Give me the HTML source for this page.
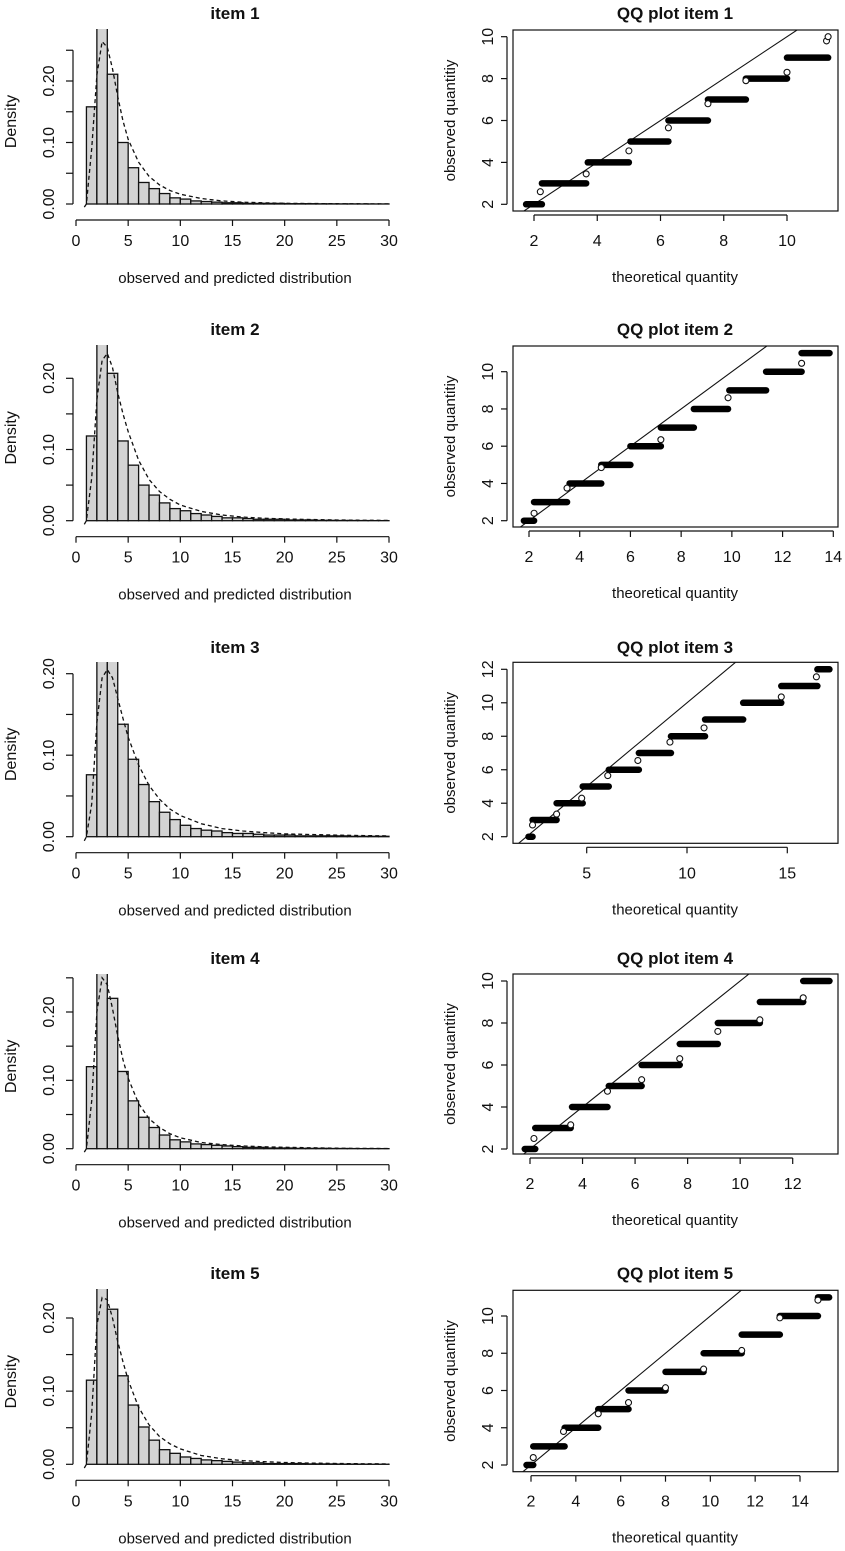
<!DOCTYPE html>
<html><head><meta charset="utf-8"><style>
html,body{margin:0;padding:0;background:#fff;}
svg{display:block;font-family:"Liberation Sans",Arial,sans-serif;}
</style></head><body>
<svg id="fig" width="845" height="1551" viewBox="0 0 845 1551" xmlns="http://www.w3.org/2000/svg"></svg>
<script>
// ---------- DATA ----------
const binStart = 1; // histogram bins of width 1 from 1 to 30
const density1 = [0.158,0.30,0.211,0.100,0.059,0.035,0.025,0.017,0.010,0.008,0.005,0.004,0.003,0.002,0.002,0.001,0.001,0.001,0.001,0.0005,0.0005,0.0005,0.0003,0.0003,0.0002,0.0002,0.0001,0.0001,0.0001];
const density2 = [0.119,0.29,0.207,0.112,0.078,0.050,0.036,0.025,0.017,0.014,0.010,0.008,0.006,0.004,0.004,0.003,0.002,0.002,0.002,0.001,0.001,0.001,0.0005,0.0005,0.0003,0.0003,0.0002,0.0001,0.0001];
const density3 = [0.076,0.25,0.25,0.138,0.095,0.064,0.043,0.030,0.021,0.014,0.010,0.008,0.007,0.005,0.004,0.004,0.003,0.002,0.002,0.002,0.001,0.001,0.001,0.001,0.001,0.0005,0.0005,0.0005,0.0005];
const density4 = [0.120,0.30,0.220,0.113,0.070,0.046,0.031,0.020,0.013,0.010,0.007,0.006,0.005,0.004,0.003,0.002,0.002,0.001,0.001,0.001,0.0005,0.0005,0.0005,0.0003,0.0003,0.0002,0.0001,0.0001,0.0001];
const density5 = [0.115,0.30,0.212,0.121,0.081,0.051,0.033,0.020,0.015,0.010,0.008,0.006,0.005,0.004,0.003,0.002,0.002,0.001,0.001,0.001,0.001,0.0005,0.0005,0.0005,0.0003,0.0003,0.0002,0.0001,0.0001];
const curveX = [0.8,1,1.5,2,2.5,3,3.5,4,4.5,5,6,7,8,9,10,12,14,16,18,20,22,25,27,30];
const curve1 = [-0.005,0,0.09,0.21,0.264,0.255,0.22,0.175,0.135,0.105,0.068,0.045,0.031,0.022,0.016,0.009,0.005,0.003,0.002,0.0012,0.0008,0.0005,0.0003,0.0002];
const curve2 = [-0.005,0,0.06,0.17,0.225,0.235,0.215,0.18,0.15,0.125,0.085,0.058,0.041,0.03,0.022,0.013,0.008,0.005,0.0035,0.0025,0.0018,0.001,0.0007,0.0004];
const curve3 = [-0.005,0,0.04,0.14,0.195,0.205,0.195,0.17,0.145,0.122,0.088,0.063,0.046,0.034,0.026,0.016,0.01,0.007,0.005,0.0035,0.0028,0.002,0.0015,0.001];
const curve4 = [-0.005,0,0.07,0.2,0.25,0.24,0.205,0.165,0.13,0.103,0.066,0.044,0.031,0.022,0.016,0.009,0.006,0.004,0.0028,0.002,0.0014,0.0008,0.0005,0.0003];
const curve5 = [-0.005,0,0.07,0.19,0.228,0.225,0.2,0.168,0.14,0.115,0.078,0.054,0.038,0.028,0.021,0.012,0.0075,0.005,0.0035,0.0025,0.0018,0.0011,0.0008,0.0005];
const histXTicks = [0,5,10,15,20,25,30];
const histYTicksA = [0,0.05,0.10,0.15,0.20,0.25];
const histYTicksB = [0,0.05,0.10,0.15,0.20];
const histYLabels = {"0":"0.00","0.1":"0.10","0.2":"0.20"};

const qqLevels1 = [2,3,4,5,6,7,8,9,10];
const qqStart1 = [1.75,2.25,3.7,5.05,6.25,7.5,8.7,10.0,11.3];
const qqEnd1   = [2.25,3.65,5.0,6.25,7.5,8.7,10.0,11.3,11.3];
const circX1 = [2.2,3.65,5.0,6.25,7.5,8.7,10.0,11.25,11.3];
const circY1 = [2.6,3.45,4.55,5.65,6.8,7.9,8.3,9.8,10.0];
const qqLevels2 = [2,3,4,5,6,7,8,9,10,11];
const qqStart2 = [1.8,2.2,3.6,4.85,6.0,7.2,8.5,9.9,11.35,12.75];
const qqEnd2   = [2.2,3.5,4.85,6.0,7.2,8.5,9.85,11.35,12.75,13.85];
const circX2 = [2.2,3.5,4.85,7.2,9.85,12.75];
const circY2 = [2.4,3.75,4.85,6.35,8.6,10.45];
const qqLevels3 = [2,3,4,5,6,7,8,9,10,11,12];
const qqStart3 = [2.1,2.3,3.5,4.8,6.1,7.6,9.2,10.9,12.8,14.7,16.5];
const qqEnd3   = [2.3,3.5,4.8,6.1,7.6,9.2,10.9,12.8,14.7,16.5,17.1];
const circX3 = [2.3,3.5,4.75,6.05,7.55,9.15,10.85,14.7,16.45];
const circY3 = [2.7,3.35,4.3,5.65,6.55,7.65,8.5,10.35,11.55];
const qqLevels4 = [2,3,4,5,6,7,8,9,10];
const qqStart4 = [1.8,2.2,3.6,5.0,6.25,7.7,9.15,10.75,12.4];
const qqEnd4   = [2.2,3.55,4.95,6.25,7.7,9.15,10.75,12.4,13.4];
const circX4 = [2.15,3.55,4.95,6.25,7.7,9.15,10.75,12.4];
const circY4 = [2.5,3.15,4.75,5.3,6.3,7.6,8.15,9.2];
const qqLevels5 = [2,3,4,5,6,7,8,9,10,11];
const qqStart5 = [1.8,2.1,3.5,5.0,6.35,8.0,9.7,11.4,13.1,14.8];
const qqEnd5   = [2.1,3.5,5.0,6.35,8.0,9.7,11.4,13.1,14.8,15.3];
const circX5 = [2.1,3.45,5.0,6.35,8.0,9.7,11.4,13.1,14.8];
const circY5 = [2.4,3.8,4.75,5.35,6.15,7.15,8.15,9.9,10.85];
const qqXTicks1 = [2,4,6,8,10];
const qqXTicks2 = [2,4,6,8,10,12,14];
const qqXTicks3 = [5,10,15];
const qqXTicks4 = [2,4,6,8,10,12];
const qqXTicks5 = [2,4,6,8,10,12,14];
const qqYTicks1 = [2,4,6,8,10];
const qqYTicks2 = [2,4,6,8,10];
const qqYTicks3 = [2,4,6,8,10,12];
const qqYTicks4 = [2,4,6,8,10];
const qqYTicks5 = [2,4,6,8,10];

// ---------- DRAWING ----------
const NS = "http://www.w3.org/2000/svg";
const svg = document.getElementById("fig");
function mk(tag, attrs, parent){
  const e = document.createElementNS(NS, tag);
  for (const k in attrs) e.setAttribute(k, attrs[k]);
  (parent||svg).appendChild(e);
  return e;
}
function txt(str, x, y, size, parent, bold, rot){
  const t = mk("text", {x:x, y:y, "font-size":size, "text-anchor":"middle", fill:"#111"}, parent);
  if (bold) t.setAttribute("font-weight","bold");
  if (rot) t.setAttribute("transform","rotate(-90 "+x+" "+y+")");
  t.textContent = str;
  return t;
}

const histPanels = [
  {d:density1,c:curve1,y0:204,y20:81,clip:29,yt:histYTicksA,ty:13},
  {d:density2,c:curve2,y0:520.7,y20:378.3,clip:345,yt:histYTicksB,ty:329},
  {d:density3,c:curve3,y0:836.7,y20:673.7,clip:662,yt:histYTicksB,ty:647},
  {d:density4,c:curve4,y0:1148.7,y20:1012,clip:974,yt:histYTicksA,ty:958},
  {d:density5,c:curve5,y0:1464.3,y20:1318,clip:1289,yt:histYTicksB,ty:1273}
];
histPanels.forEach((p, i) => {
  const g = mk("g", {});
  
  
  const X = v => 76 + v * (389 - 76) / 30;
  const Y = v => p.y0 - v * (p.y0 - p.y20) / 0.2;
  const cid = "hc" + i;
  const cp = mk("clipPath", {id:cid}, g);
  mk("rect", {x:60, y:p.clip, width:340, height:p.y0 + 8 - p.clip}, cp);
  const bars = mk("g", {"clip-path":"url(#"+cid+")"}, g);
  p.d.forEach((v, k) => {
    const x1 = X(binStart + k), x2 = X(binStart + k + 1);
    const r = mk("rect", {x:x1, y:Y(v), width:x2-x1, height:Math.max(p.y0 - Y(v),0.01), fill:"#d3d3d3", stroke:"#111", "stroke-width":1.3}, bars);
    
    
  });
  const pts = curveX.map((x, k) => X(x).toFixed(1) + "," + Y(p.c[k]).toFixed(1)).join(" ");
  const cl = mk("polyline", {points:pts, fill:"none", stroke:"#111", "stroke-width":1.3, "stroke-dasharray":"4,3"}, bars);
  
  
  const ay = p.y0 + 16;
  mk("line", {x1:X(0), x2:X(30), y1:ay, y2:ay, stroke:"#111", "stroke-width":1.2}, g);
  histXTicks.forEach(t => {
    mk("line", {x1:X(t), x2:X(t), y1:ay, y2:ay+6, stroke:"#111", "stroke-width":1.2}, g);
    const l = txt(String(t), X(t), p.y0 + 42, 16, g);
    
    
  });
  const yt = p.yt;
  mk("line", {x1:73, x2:73, y1:Y(0), y2:Y(yt[yt.length-1]), stroke:"#111", "stroke-width":1.2}, g);
  yt.forEach(t => {
    mk("line", {x1:66, x2:73, y1:Y(t), y2:Y(t), stroke:"#111", "stroke-width":1.2}, g);
    const key = String(Math.round(t*100)/100);
    if (histYLabels[key]) {
      const l = txt(histYLabels[key], 54, Y(t), 16, g, false, true);
      
      
    }
  });
  const tt = txt("item " + (i+1), 235, p.ty + 6, 17, g, true);
  
  
  const xt = txt("observed and predicted distribution", 235, p.y0 + 79, 15, g);
  
  
  const ytl = txt("Density", 16, (p.y0 + p.clip) / 2 + 5, 16, g, false, true);
  
  
});

const qqPanels = [
  {lv:qqLevels1,s:qqStart1,e:qqEnd1,cx:circX1,cy:circY1,t:30,b:211,xv:[2,10],xp:[534,787],yv:[2,10],yp:[204.3,36.7],xt:qqXTicks1,yt:qqYTicks1,ty:13},
  {lv:qqLevels2,s:qqStart2,e:qqEnd2,cx:circX2,cy:circY2,t:346,b:527,xv:[2,14],xp:[529,833.3],yv:[2,10],yp:[520.7,371.7],xt:qqXTicks2,yt:qqYTicks2,ty:329},
  {lv:qqLevels3,s:qqStart3,e:qqEnd3,cx:circX3,cy:circY3,t:662.3,b:843.3,xv:[5,15],xp:[586.7,787.3],yv:[2,12],yp:[836.7,669.3],xt:qqXTicks3,yt:qqYTicks3,ty:647},
  {lv:qqLevels4,s:qqStart4,e:qqEnd4,cx:circX4,cy:circY4,t:974,b:1154,xv:[2,12],xp:[530,792.7],yv:[2,10],yp:[1149,981],xt:qqXTicks4,yt:qqYTicks4,ty:958},
  {lv:qqLevels5,s:qqStart5,e:qqEnd5,cx:circX5,cy:circY5,t:1290.3,b:1471.7,xv:[2,14],xp:[531,800],yv:[2,10],yp:[1465,1316],xt:qqXTicks5,yt:qqYTicks5,ty:1273}
];
qqPanels.forEach((p, i) => {
  const g = mk("g", {});
  
  
  const L = 513, R = 838;
  const X = v => p.xp[0] + (v - p.xv[0]) * (p.xp[1] - p.xp[0]) / (p.xv[1] - p.xv[0]);
  const Y = v => p.yp[0] + (v - p.yv[0]) * (p.yp[1] - p.yp[0]) / (p.yv[1] - p.yv[0]);
  const Xinv = px => p.xv[0] + (px - p.xp[0]) * (p.xv[1] - p.xv[0]) / (p.xp[1] - p.xp[0]);
  const cid = "qc" + i;
  const cp = mk("clipPath", {id:cid}, g);
  mk("rect", {x:L, y:p.t, width:R-L, height:p.b-p.t}, cp);
  const inner = mk("g", {"clip-path":"url(#"+cid+")"}, g);
  const xa = Xinv(L), xb = Xinv(R);
  const ref = mk("line", {x1:X(xa), y1:Y(xa), x2:X(xb), y2:Y(xb), stroke:"#111", "stroke-width":1.1}, inner);
  
  
  p.lv.forEach((v, k) => {
    const s = mk("line", {x1:X(p.s[k]), x2:X(p.e[k]), y1:Y(v), y2:Y(v), stroke:"#000", "stroke-width":6.5, "stroke-linecap":"round"}, inner);
    
    
  });
  p.cx.forEach((x, k) => {
    const c = mk("circle", {cx:X(x), cy:Y(p.cy[k]), r:3, fill:"#fff", stroke:"#111", "stroke-width":1.1}, inner);
    
    
  });
  mk("rect", {x:L, y:p.t, width:R-L, height:p.b-p.t, fill:"none", stroke:"#111", "stroke-width":1.2}, g);
  const ay = p.b + 4;
  mk("line", {x1:X(p.xt[0]), x2:X(p.xt[p.xt.length-1]), y1:ay, y2:ay, stroke:"#111", "stroke-width":1.2}, g);
  p.xt.forEach(t => {
    mk("line", {x1:X(t), x2:X(t), y1:ay, y2:ay+6, stroke:"#111", "stroke-width":1.2}, g);
    const l = txt(String(t), X(t), p.b + 35, 16, g);
    
    
  });
  const ax = L - 6;
  mk("line", {x1:ax, x2:ax, y1:Y(p.yt[0]), y2:Y(p.yt[p.yt.length-1]), stroke:"#111", "stroke-width":1.2}, g);
  p.yt.forEach(t => {
    mk("line", {x1:ax-6, x2:ax, y1:Y(t), y2:Y(t), stroke:"#111", "stroke-width":1.2}, g);
    const l = txt(String(t), L - 20, Y(t), 16, g, false, true);
    
    
  });
  const tt = txt("QQ plot item " + (i+1), 675, p.ty + 6, 17, g, true);
  
  
  const xt = txt("theoretical quantity", 675, p.b + 71, 15, g);
  
  
  const ytl = txt("observed quantitiy", 455, (p.t + p.b) / 2, 15, g, false, true);
  
  
});
</script>
</body></html>
